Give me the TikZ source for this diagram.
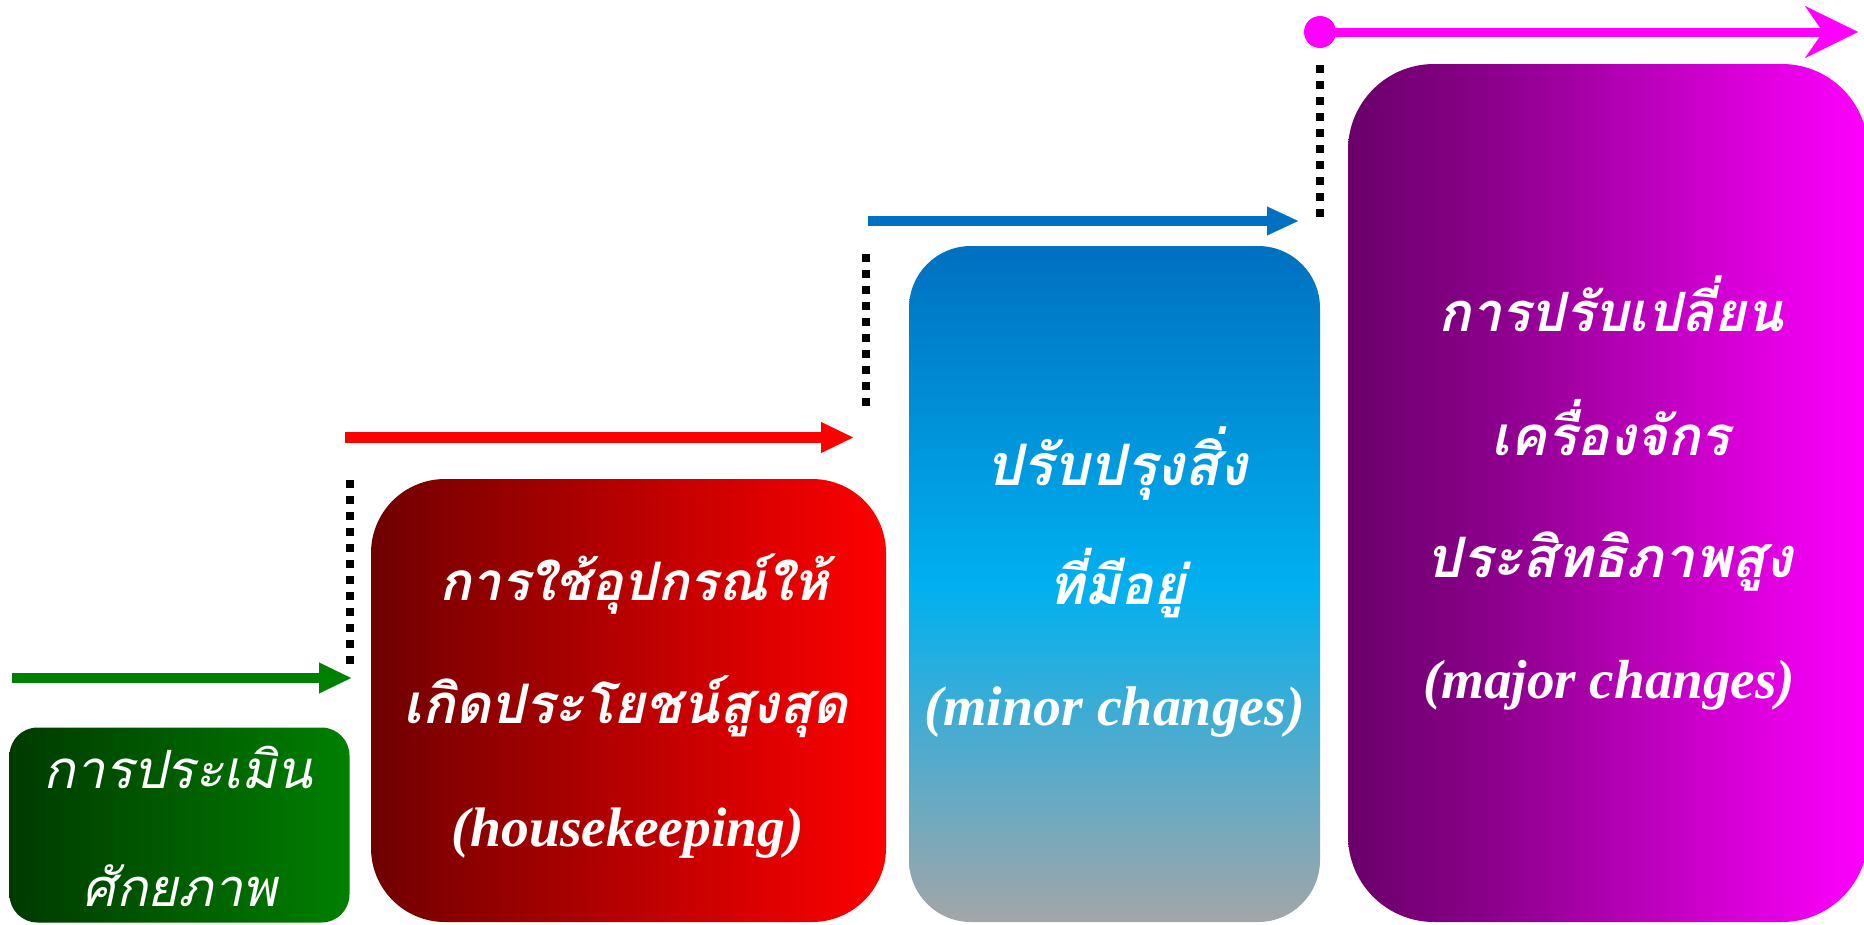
\documentclass[tikz,border=0pt]{standalone}
\usepackage{fontspec}
\usetikzlibrary{arrows.meta}
\newfontfamily\thaifont[Script=Thai]{Loma}
\newfontfamily\engfont{Liberation Serif}
\definecolor{g0}{HTML}{003A00}
\definecolor{g1}{HTML}{008000}
\definecolor{r0}{HTML}{6E0000}
\definecolor{r1}{HTML}{880000}
\definecolor{r2}{HTML}{FF0000}
\definecolor{b0}{HTML}{0070C0}
\definecolor{b1}{HTML}{00B0F0}
\definecolor{b2}{HTML}{A3A6A8}
\definecolor{p0}{HTML}{6A006A}
\definecolor{p1}{HTML}{850085}
\definecolor{p2}{HTML}{FF00FF}
\definecolor{bluearrow}{HTML}{0070C0}
\pgfdeclarehorizontalshading{greensh}{100bp}{color(0bp)=(g0); color(25bp)=(g0); color(75bp)=(g1); color(100bp)=(g1)}
\pgfdeclarehorizontalshading{redsh}{100bp}{color(0bp)=(r0); color(25bp)=(r0); color(33bp)=(r1); color(75bp)=(r2); color(100bp)=(r2)}
\pgfdeclareverticalshading{bluesh}{100bp}{color(0bp)=(b2); color(25bp)=(b2); color(50bp)=(b1); color(75bp)=(b0); color(100bp)=(b0)}
\pgfdeclarehorizontalshading{purplesh}{100bp}{color(0bp)=(p0); color(25bp)=(p0); color(37bp)=(p1); color(75bp)=(p2); color(100bp)=(p2)}
\tikzset{
  box/.style={inner sep=0pt, outer sep=0pt, draw=none},
  lbl/.style={anchor=base, text=white, inner sep=0pt, outer sep=0pt},
  flow/.style={line width=10pt},
  dotline/.style={line width=8pt, dash pattern=on 8pt off 8pt, black},
  tri/.style={-{Triangle[length=32pt,width=31pt,line width=0.1pt]}},
}
\begin{document}
\begin{tikzpicture}[x=1pt,y=-1pt]
\useasboundingbox (0,0) rectangle (1864,924);
\clip (0,0) rectangle (1864,924);
% boxes
\node[box, shading=greensh, rounded corners=28pt, minimum width=340pt, minimum height=195pt] (gbox) at (179.5,825) {};
\node[box, shading=redsh, rounded corners=74pt, minimum width=515pt, minimum height=443pt] (rbox) at (628.5,700.5) {};
\node[box, shading=bluesh, rounded corners=62pt, minimum width=411pt, minimum height=676pt] (bbox) at (1114.5,584) {};
\node[box, shading=purplesh, rounded corners=86pt, minimum width=520pt, minimum height=858pt] (pbox) at (1608,493) {};
% arrows
\coordinate (ga) at (12,678);
\coordinate (gb) at (351,678);
\draw[flow, g1, tri] (ga) -- (gb);
\coordinate (ra) at (345,437.5);
\coordinate (rb) at (853,437.5);
\draw[flow, r2, line width=11pt, tri] (ra) -- (rb);
\coordinate (ba) at (868,221);
\coordinate (bb) at (1298,221);
\draw[flow, bluearrow, line width=10pt, -{Triangle[length=31pt,width=29pt,line width=0.1pt]}] (ba) -- (bb);
\node[circle, fill=p2, minimum size=32pt, inner sep=0pt] (pdot) at (1320,32) {};
\coordinate (pb) at (1858,32);
\draw[p2, line width=9pt, -{Stealth[length=53pt,width=52pt,inset=18pt,line width=0.1pt]}] (pdot.center) -- (pb);
% dotted risers
\coordinate (d1a) at (350,480); \coordinate (d1b) at (350,664);
\draw[dotline] (d1a) -- (d1b);
\coordinate (d2a) at (866,254); \coordinate (d2b) at (866,406);
\draw[dotline] (d2a) -- (d2b);
\coordinate (d3a) at (1320,65); \coordinate (d3b) at (1320,217);
\draw[dotline] (d3a) -- (d3b);
% texts
\node[lbl] (g1t) at (178,788) {\resizebox{269pt}{!}{\thaifont\itshape การประเมิน}};
\node[lbl] (g2t) at (180,906) {\resizebox{194pt}{!}{\thaifont\itshape ศักยภาพ}};
\node[lbl] (r1t) at (634,600) {\resizebox{389pt}{!}{\thaifont\bfseries\itshape การใช้อุปกรณ์ให้}};
\node[lbl] (r2t) at (626,723) {\resizebox{444pt}{!}{\thaifont\bfseries\itshape เกิดประโยชน์สูงสุด}};
\node[lbl] (r3t) at (628,846) {\resizebox{352pt}{!}{\engfont\bfseries\itshape (housekeeping)}};
\node[lbl] (b1t) at (1117,485) {\resizebox{261pt}{!}{\thaifont\bfseries\itshape ปรับปรุงสิ่ง}};
\node[lbl] (b2t) at (1117,604) {\resizebox{137pt}{!}{\thaifont\bfseries\itshape ที่มีอยู่}};
\node[lbl] (b3t) at (1115,725) {\resizebox{380pt}{!}{\engfont\bfseries\itshape (minor changes)}};
\node[lbl] (p1t) at (1611,331) {\resizebox{345pt}{!}{\thaifont\bfseries\itshape การปรับเปลี่ยน}};
\node[lbl] (p2t) at (1611,455) {\resizebox{238pt}{!}{\thaifont\bfseries\itshape เครื่องจักร}};
\node[lbl] (p3t) at (1610,577) {\resizebox{366pt}{!}{\thaifont\bfseries\itshape ประสิทธิภาพสูง}};
\node[lbl] (p4t) at (1609,698) {\resizebox{372pt}{!}{\engfont\bfseries\itshape (major changes)}};
\end{tikzpicture}
\end{document}
